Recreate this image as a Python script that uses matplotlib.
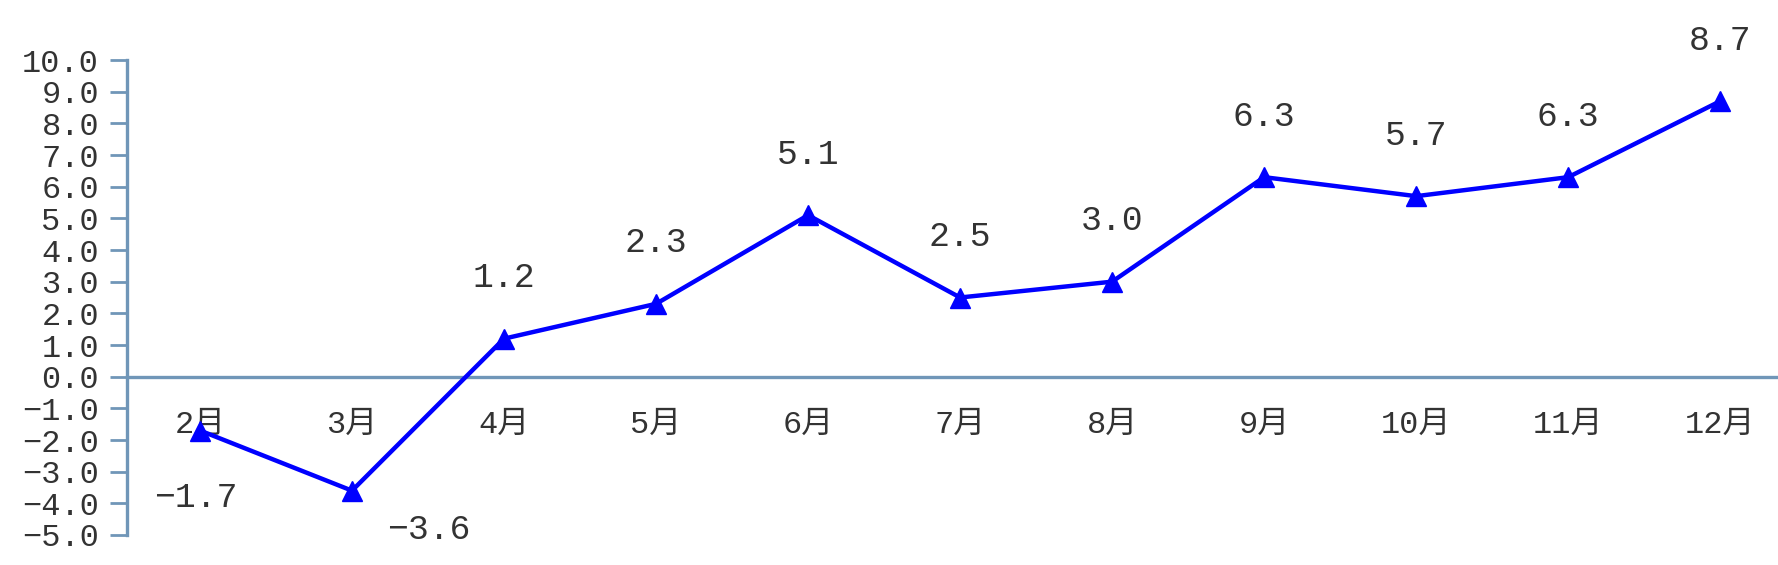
import matplotlib
matplotlib.use("Agg")
import matplotlib.pyplot as plt

months = ["2月", "3月", "4月", "5月", "6月", "7月", "8月", "9月", "10月", "11月", "12月"]
values = [-1.7, -3.6, 1.2, 2.3, 5.1, 2.5, 3.0, 6.3, 5.7, 6.3, 8.7]
yticks = [-5, -4, -3, -2, -1, 0, 1, 2, 3, 4, 5, 6, 7, 8, 9, 10]

FAM = ["Liberation Mono", "Noto Sans CJK SC", "DejaVu Sans"]
plt.rcParams["font.family"] = FAM
TXT = "#333333"
AX = "#7096B8"


def fmt(v):
    s = f"{abs(v):.1f}"
    return ("\u2212" + s) if v < 0 else s


fig = plt.figure(figsize=(17.78, 5.65), dpi=100)
ax = fig.add_axes([127 / 1778, 1 - 535 / 565, 1 - 127 / 1778, (535 - 60) / 565])

for s in ["top", "right"]:
    ax.spines[s].set_visible(False)
ax.spines["bottom"].set_position(("data", 0))
ax.spines["bottom"].set_color(AX)
ax.spines["bottom"].set_linewidth(2.4)
ax.spines["left"].set_color(AX)
ax.spines["left"].set_linewidth(2.4)

x = list(range(len(months)))
ax.plot(x, values, color="#0000FF", lw=3.2, marker="^", markersize=15, zorder=3)

ax.set_xlim(-0.48, 10.38)
ax.set_ylim(-5, 10)
ax.set_yticks(yticks)
ax.set_yticklabels([fmt(v) for v in yticks], fontsize=23, color=TXT)
ax.set_xticks(x)
ax.set_xticklabels(months, fontsize=23, color=TXT)
ax.tick_params(axis="y", direction="out", length=12, width=2, color=AX, pad=8)
ax.tick_params(axis="x", length=0, pad=24)

for xi, v in zip(x, values):
    if v >= 0:
        ax.annotate(fmt(v), (xi, v), xytext=(0, 44), textcoords="offset points",
                    ha="center", va="center", fontsize=25, color=TXT)
    elif xi == 0:
        ax.annotate(fmt(v), (xi, v), xytext=(-3, -48), textcoords="offset points",
                    ha="center", va="center", fontsize=25, color=TXT)
    else:
        ax.annotate(fmt(v), (xi, v), xytext=(55, -28), textcoords="offset points",
                    ha="center", va="center", fontsize=25, color=TXT)

fig.savefig("out.png", dpi=100)
